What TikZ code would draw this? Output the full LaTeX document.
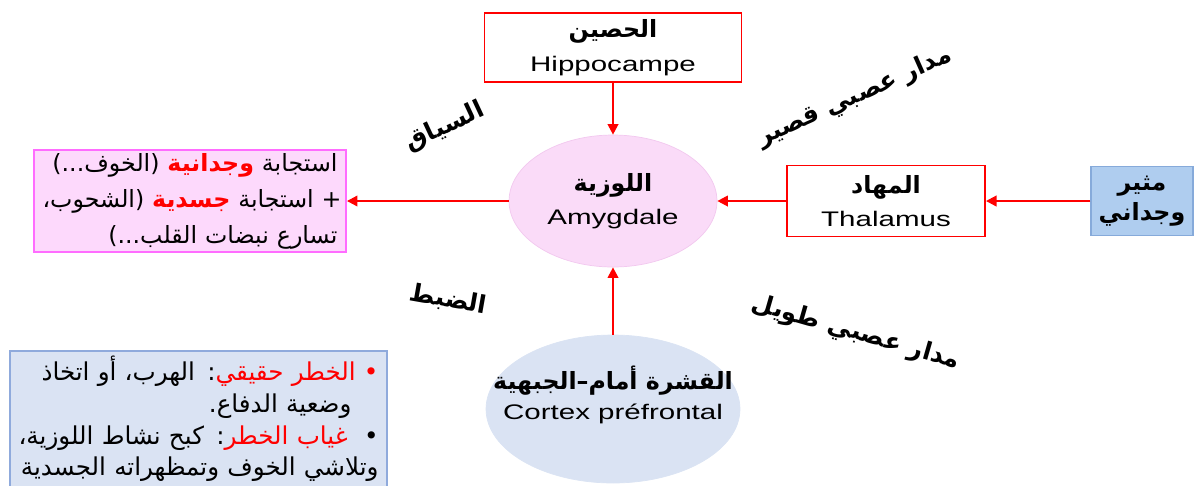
\documentclass[tikz,border=0pt]{standalone}
\usepackage{fontspec}
\usepackage{xcolor}
\usepackage{tikz}
\usetikzlibrary{arrows.meta,shapes.geometric}
\TeXXeTstate=1
\newfontfamily\arabicfont[Script=Arabic]{DejaVu Sans}
\newfontfamily\latinfont[FakeStretch=1.4]{Liberation Sans}
\definecolor{alarm}{HTML}{FF0000}
\definecolor{amyfill}{HTML}{FADBF8}
\definecolor{amyline}{HTML}{F2C8EF}
\definecolor{respfill}{HTML}{FDD9FC}
\definecolor{respline}{HTML}{FF6CFF}
\definecolor{ctxfill}{HTML}{DAE3F3}
\definecolor{riskline}{HTML}{8FAADC}
\definecolor{stimfill}{HTML}{AFCDEF}
\definecolor{stimline}{HTML}{86AADA}
\newcommand{\arb}[1]{{\arabicfont\beginR #1\endR}}
\newcommand{\lat}[1]{{\latinfont #1}}
\newcommand{\redR}[1]{\textcolor{alarm}{\beginR #1\endR}}
\tikzset{
  redbox/.style={rectangle, draw=alarm, fill=white, line width=1.1pt, align=center, inner sep=0pt,
                 font=\fontsize{12}{19}\selectfont},
  blob/.style={ellipse, inner sep=0pt, align=center, font=\fontsize{12}{19}\selectfont},
  stimbox/.style={rectangle, draw=stimline, fill=stimfill, line width=0.8pt, align=center, inner sep=0pt,
                  font=\arabicfont\bfseries\fontsize{13.5}{17}\selectfont},
  textbox/.style={rectangle, line width=1.1pt, align=right, inner sep=0pt,
                  font=\arabicfont\fontsize{13.5}{20.5}\selectfont},
  lbl/.style={font=\arabicfont\bfseries\fontsize{14}{16}\selectfont, inner sep=0pt},
  flow/.style={-{Triangle[length=6pt,width=6pt]}, draw=alarm, line width=1.2pt},
}

\begin{document}
\begin{tikzpicture}[x=0.02cm,y=-0.02cm]
\useasboundingbox (0,0) rectangle (1196,485);

\node[redbox, minimum width=5.14cm, minimum height=1.38cm] (hip) at (613,47.5)
  {\arb{\bfseries\fontsize{13.5}{19}\selectfont الحصين}\\\lat{Hippocampe}};
\node[blob, fill=amyfill, draw=amyline, minimum width=4.16cm, minimum height=2.64cm] (amy) at (613,201)
  {\arb{\bfseries\fontsize{13.5}{19}\selectfont اللوزية}\\\lat{Amygdale}};
\node[redbox, minimum width=3.96cm, minimum height=1.42cm] (tha) at (886,201)
  {\arb{\bfseries\fontsize{13.5}{19}\selectfont المهاد}\\\lat{Thalamus}};
\node[stimbox, minimum width=2.04cm, minimum height=1.38cm] (stim) at (1142,201)
  {\beginR مثير\endR\\\beginR وجداني\endR};
\node[textbox, draw=respline, fill=respfill, text width=5.9cm, minimum width=6.24cm, minimum height=2.04cm] (resp) at (190,201)
  {\mbox{\beginR(الخوف...)\endR\ \redR{\bfseries وجدانية}\ \beginR استجابة\endR}\\
   \mbox{\beginR(الشحوب،\endR\ \redR{\bfseries جسدية}\ \beginR + استجابة\endR}\\
   \mbox{\beginR تسارع نبضات القلب...)\endR}};

\node[blob, fill=ctxfill, draw=ctxfill, minimum width=5.08cm, minimum height=2.96cm] (ctx) at (613,409) {};
\node[align=center, inner sep=0pt, font=\fontsize{12}{17}\selectfont] (ctxtext) at (613,395)
  {\arb{\bfseries\fontsize{13.5}{17}\selectfont القشرة أمام–الجبهية}\\\lat{Cortex préfrontal}};

\node[textbox, draw=riskline, fill=ctxfill, line width=1.4pt, text width=7.2cm, minimum width=7.54cm, minimum height=2.72cm,
      font=\arabicfont\fontsize{14}{18}\selectfont] (risk) at (198.5,419)
  {\mbox{\beginR: الهرب، أو اتخاذ\endR\redR{• الخطر حقيقي}}\\
   \mbox{\beginR وضعية الدفاع.\endR\hspace{1.1em}}\\
   \mbox{\beginR: كبح نشاط اللوزية،\endR\redR{غياب الخطر}\ \ \beginR•\endR}\\
   \mbox{\beginR وتلاشي الخوف وتمظهراته الجسدية\endR}};

\node[lbl, rotate=25]  (context) at (445,127) {\beginR السياق\endR};
\node[lbl, rotate=-10] (control) at (448,300) {\beginR الضبط\endR};
\node[lbl, rotate=24]  (shortway) at (855,97) {\beginR مدار عصبي قصير\endR};
\node[lbl, rotate=-16] (longway) at (856,333) {\beginR مدار عصبي طويل\endR};

\draw[flow] (hip) -- (amy);
\draw[flow] (tha) -- (amy);
\draw[flow] (stim) -- (tha);
\draw[flow] (amy) -- (resp);
\draw[flow] (ctx) -- (amy);
\end{tikzpicture}
\end{document}
